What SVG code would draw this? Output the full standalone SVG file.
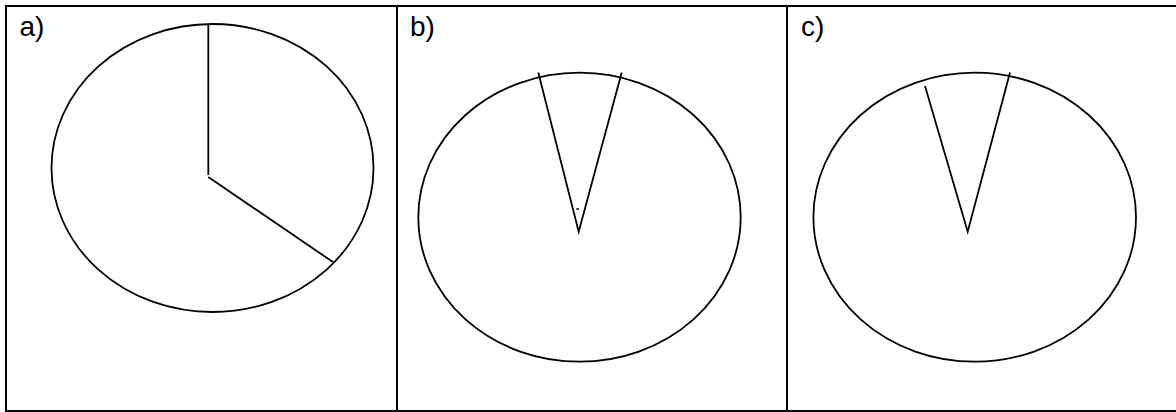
<svg xmlns="http://www.w3.org/2000/svg" width="1176" height="412" viewBox="0 0 1176 412">
<style>
.frame{fill:none;stroke:#000;stroke-width:2}
.shape{fill:none;stroke:#000;stroke-width:1.8}
.lbl{font-family:"Liberation Sans",Arial,sans-serif;font-size:28px;fill:#000}
</style>
<rect x="0" y="0" width="1176" height="412" fill="#fff"/>
<g id="frame">
<line class="frame" x1="6" y1="6" x2="1176" y2="6"/>
<line class="frame" x1="6" y1="411" x2="1176" y2="411"/>
<line class="frame" x1="6" y1="5" x2="6" y2="412"/>
<line class="frame" x1="397" y1="6" x2="397" y2="411"/>
<line class="frame" x1="787" y1="6" x2="787" y2="411"/>
</g>
<g id="panel-a">
<text class="lbl" x="19.5" y="35.5">a)</text>
<ellipse class="shape" cx="212.5" cy="168" rx="161" ry="144"/>
<polyline class="shape" points="208.3,24 208.3,175"/>
<polyline class="shape" points="208.3,177 333.3,262.3"/>
</g>
<g id="panel-b">
<text class="lbl" x="410" y="35.5">b)</text>
<ellipse class="shape" cx="579.5" cy="217.2" rx="161.2" ry="144.5"/>
<polyline class="shape" points="538.3,72.5 578.7,231.7 621.7,72.5"/>
<line x1="576.3" y1="209" x2="579" y2="209" stroke="#000" stroke-width="1.5"/>
</g>
<g id="panel-c">
<text class="lbl" x="801" y="35.5">c)</text>
<ellipse class="shape" cx="974.7" cy="217.2" rx="161.3" ry="144.5"/>
<polyline class="shape" points="925,86 967.7,231.7 1010,72.5"/>
</g>
</svg>
